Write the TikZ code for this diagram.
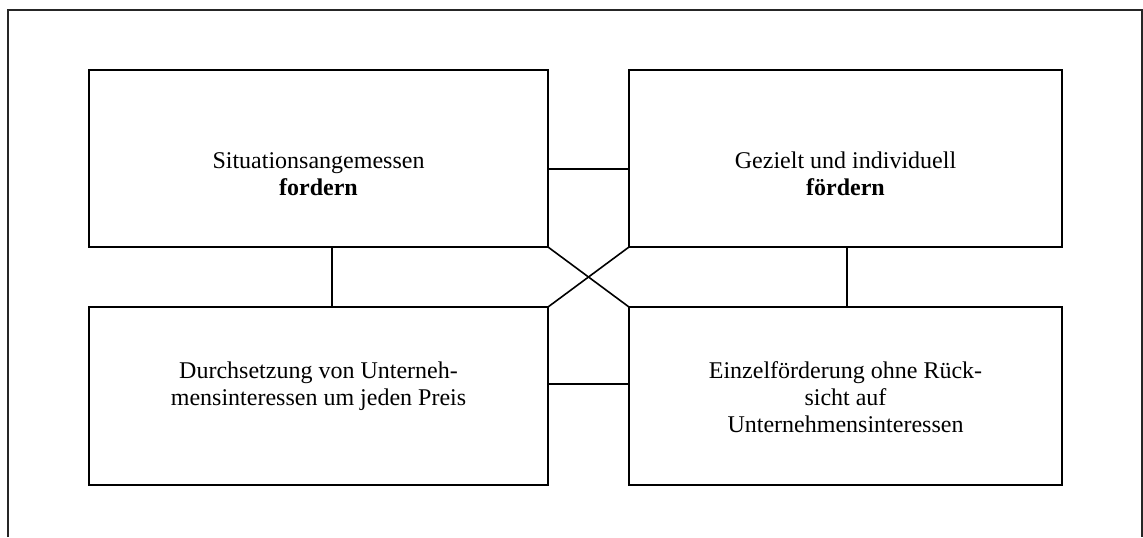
\documentclass[tikz,border=0pt]{standalone}
\usepackage{fontspec}
\setmainfont{Liberation Serif}
\begin{document}
\begin{tikzpicture}[x=0.5pt,y=-0.5pt,
  box/.style={draw=black,line width=1pt,inner sep=0pt,outer sep=0pt},
  boxtext/.style={align=center,inner sep=0pt,anchor=base,font=\fontsize{12}{13.5}\selectfont},
  link/.style={draw=black,line width=0.8pt},
  frame/.style={draw=black!85,line width=1pt}]
\useasboundingbox (0,0) rectangle (1143,537);
\draw[frame] (8,537) -- (8,10) -- (1142,10) -- (1142,537);
\node[box,minimum width=229.5pt,minimum height=88.5pt] (TL) at (318.5,158.5) {};
\node[box,minimum width=216.5pt,minimum height=88.5pt] (TR) at (845.5,158.5) {};
\node[box,minimum width=229.5pt,minimum height=89pt] (BL) at (318.5,396) {};
\node[box,minimum width=216.5pt,minimum height=89pt] (BR) at (845.5,396) {};
\node[boxtext] (TLt) at (318.5,195) {Situationsangemessen\\\textbf{fordern}};
\node[boxtext] (TRt) at (845.5,195) {Gezielt und individuell\\\textbf{fördern}};
\node[boxtext] (BLt) at (318.5,405) {Durchsetzung von Unterneh-\\mensinteressen um jeden Preis};
\node[boxtext] (BRt) at (845.5,432.5) {Einzelförderung ohne Rück-\\sicht auf\\Unternehmensinteressen};
\coordinate (ht) at (0,169);
\coordinate (hb) at (0,384);
\coordinate (vl) at (332,0);
\coordinate (vr) at (847,0);
\draw[link] (TL.east |- ht) -- (TR.west |- ht);
\draw[link] (BL.east |- hb) -- (BR.west |- hb);
\draw[link] (TL.south -| vl) -- (BL.north -| vl);
\draw[link] (TR.south -| vr) -- (BR.north -| vr);
\draw[link] (TL.south east) -- (BR.north west);
\draw[link] (TR.south west) -- (BL.north east);
\end{tikzpicture}
\end{document}
